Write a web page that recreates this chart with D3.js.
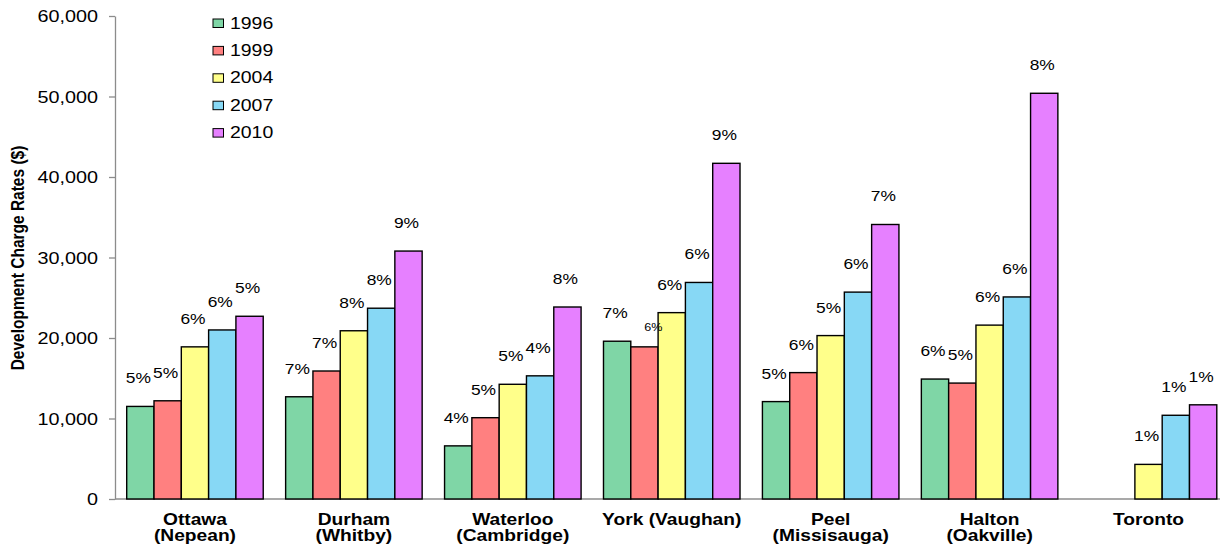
<!DOCTYPE html>
<html>
<head>
<meta charset="utf-8">
<script src="https://cdn.jsdelivr.net/npm/d3@7/dist/d3.min.js"></script>
<style>
  body { margin: 0; background: #fff; }
  svg { display: block; font-family: "Liberation Sans", Arial, sans-serif; }
</style>
</head>
<body>
<svg id="chart" width="1220" height="548"></svg>
<script>
// data
const regions = ["Ottawa\n(Nepean)", "Durham\n(Whitby)", "Waterloo\n(Cambridge)", "York (Vaughan)",
                 "Peel\n(Missisauga)", "Halton\n(Oakville)", "Toronto"];
const years = ["1996", "1999", "2004", "2007", "2010"];
const rates = {
  "1996": [11500, 12700, 6600, 19600, 12100, 14900, null],
  "1999": [12200, 15900, 10100, 18900, 15700, 14400, null],
  "2004": [18900, 20900, 14250, 23150, 20300, 21600, 4300],
  "2007": [21000, 23700, 15300, 26900, 25700, 25100, 10400],
  "2010": [22700, 30800, 23850, 41700, 34100, 50400, 11700]
};
const pctLabels = {
  "1996": ["5%", "7%", "4%", "7%", "5%", "6%", null],
  "1999": ["5%", "7%", "5%", "6%", "6%", "5%", null],
  "2004": ["6%", "8%", "5%", "6%", "5%", "6%", "1%"],
  "2007": ["6%", "8%", "4%", "6%", "6%", "6%", "1%"],
  "2010": ["5%", "9%", "8%", "9%", "7%", "8%", "1%"]
};
const yTicks = [0, 10000, 20000, 30000, 40000, 50000, 60000];
const colors = ["#7fd6a6", "#ff8080", "#ffff8a", "#87d8f5", "#e680ff"];

const S = 1.2; // the source image is stretched horizontally
const svg = d3.select("#chart");

const y = d3.scaleLinear().domain([0, 60000]).range([499, 16]);
const x = d3.scaleBand().domain(regions).range([115.5, 1228]).paddingInner(0.141).paddingOuter(0.0705);
const xi = d3.scaleBand().domain(years).range([0, x.bandwidth()]);
const color = d3.scaleOrdinal().domain(years).range(colors);

function stretched(sel) {
  return sel.attr("transform", function() {
    return `translate(${this.__x},${this.__y}) scale(${S},1)`;
  });
}

// y axis
const yAxis = svg.append("g")
  .attr("transform", `translate(${x.range()[0] - 0.5},0)`)
  .call(d3.axisLeft(y).tickValues(yTicks).tickSize(6).tickSizeOuter(0).tickFormat(d3.format(",")));
yAxis.select(".domain").attr("stroke", "#8c8c8c").attr("stroke-width", 1.3);
yAxis.selectAll(".tick line").attr("stroke", "#8c8c8c").attr("stroke-width", 1.3);
yAxis.selectAll(".tick text")
  .attr("x", null).attr("dy", "0.36em")
  .attr("transform", `translate(-17,0) scale(${S},1)`)
  .attr("font-size", 16.5).attr("fill", "#000")
  .attr("font-family", "'Liberation Sans', Arial, sans-serif");

// x axis line
svg.append("line")
  .attr("x1", x.range()[0] - 0.5).attr("x2", 1220)
  .attr("y1", y(0)).attr("y2", y(0))
  .attr("stroke", "#8c8c8c").attr("stroke-width", 1.3);

// bars
const groups = svg.append("g").selectAll("g")
  .data(regions).join("g")
  .attr("transform", d => `translate(${x(d)},0)`);

const cells = (d, i) => years.map(yr => ({ yr, v: rates[yr][i], lab: pctLabels[yr][i], reg: d }))
  .filter(e => e.v != null);

groups.selectAll("rect")
  .data(cells)
  .join("rect")
  .attr("x", d => xi(d.yr))
  .attr("y", d => y(d.v))
  .attr("width", xi.bandwidth())
  .attr("height", d => y(0) - y(d.v))
  .attr("fill", d => color(d.yr))
  .attr("stroke", "#000")
  .attr("stroke-width", 1.4);

// percentage labels above bars (York 1999 is squeezed in small next to 1996)
groups.selectAll("text.pct")
  .data(cells)
  .join("text")
  .attr("class", "pct")
  .text(d => d.lab)
  .attr("text-anchor", "middle")
  .attr("font-size", d => (d.reg === "York (Vaughan)" && d.yr === "1999") ? 10.5 : 14.5)
  .each(function(d) {
    const small = d.reg === "York (Vaughan)" && d.yr === "1999";
    this.__x = xi(d.yr) + xi.bandwidth() / 2 + (small ? 9 : -2);
    this.__y = y(d.v) - (small ? 16 : 23);
  })
  .call(stretched);

// category labels
svg.append("g").selectAll("text")
  .data(regions).join("text")
  .attr("text-anchor", "middle")
  .attr("font-weight", "bold")
  .attr("font-size", 16)
  .each(function(d) {
    this.__x = x(d) + x.bandwidth() / 2;
    this.__y = 524.5;
    d3.select(this).selectAll("tspan").data(d.split("\n")).join("tspan")
      .attr("x", 0).attr("dy", (l, i) => i === 0 ? 0 : 16.5)
      .text(l => l);
  })
  .call(stretched);

// y title
svg.append("text")
  .attr("transform", `translate(24,258) scale(${S},1) rotate(-90)`)
  .attr("text-anchor", "middle")
  .attr("font-weight", "bold")
  .attr("font-size", 15.5)
  .text("Development Charge Rates ($)");

// legend
const legend = svg.append("g").selectAll("g")
  .data(years).join("g")
  .attr("transform", (d, i) => `translate(213,${19 + i * 27.4})`);
legend.append("rect")
  .attr("width", 10.5).attr("height", 8.5)
  .attr("fill", d => color(d))
  .attr("stroke", "#000").attr("stroke-width", 1);
legend.append("text")
  .text(d => d)
  .attr("font-size", 16.2)
  .each(function() { this.__x = 17; this.__y = 9.5; })
  .call(stretched);
</script>
</body>
</html>
